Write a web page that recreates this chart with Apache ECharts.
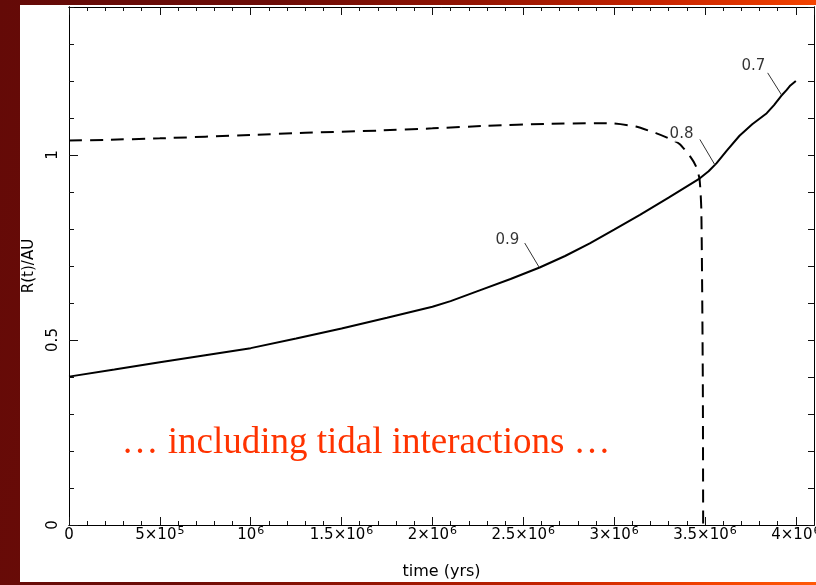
<!DOCTYPE html>
<html>
<head>
<meta charset="utf-8">
<script src="https://cdn.jsdelivr.net/npm/echarts@6/dist/echarts.min.js"></script>
<style>
  html, body { margin:0; padding:0; }
  body { width:816px; height:585px; overflow:hidden; position:relative;
    background: linear-gradient(100deg, #640a07 0%, #6c0c07 30%, #941503 52%, #c82400 72%, #f24200 88%, #ff5a08 100%); }
  #panel { position:absolute; left:20px; top:5px; width:796px; height:577px; background:#ffffff; }
  #chart { position:absolute; left:0; top:0; width:816px; height:585px; }
</style>
</head>
<body>
<div id="panel"></div>
<div id="chart"></div>
<script>
// ---- data ----
const xTickLabels = ['0', '5×10^5', '10^6', '1.5×10^6', '2×10^6', '2.5×10^6', '3×10^6', '3.5×10^6', '4×10^6'];
const yTickLabels = ['0', '0.5', '1'];

// solid curve: R(t) including tides
const solidT = [0, 2.5e5, 5e5, 7.5e5, 1e6, 1.25e6, 1.5e6, 1.75e6, 2e6, 2.1e6, 2.26e6, 2.43e6, 2.59e6, 2.73e6, 2.866e6, 3.0e6, 3.142e6, 3.3e6, 3.472e6, 3.52e6, 3.564e6, 3.62e6, 3.69e6, 3.76e6, 3.84e6, 3.88e6, 3.92e6, 3.95e6, 3.97e6, 4.0e6];
const solidR = [0.401, 0.420, 0.440, 0.459, 0.478, 0.504, 0.531, 0.560, 0.590, 0.605, 0.634, 0.665, 0.696, 0.727, 0.761, 0.798, 0.838, 0.885, 0.937, 0.956, 0.978, 1.012, 1.052, 1.083, 1.113, 1.135, 1.160, 1.176, 1.188, 1.200];

// dashed curve
const dashT = [0, 2e5, 5e5, 1e6, 1.3e6, 1.7e6, 2e6, 2.3e6, 2.63e6, 2.9e6, 3.0e6, 3.12e6, 3.23e6, 3.30e6, 3.36e6, 3.42e6, 3.45e6, 3.47e6, 3.48e6, 3.488e6, 3.49e6];
const dashR = [1.039, 1.041, 1.045, 1.054, 1.060, 1.066, 1.072, 1.079, 1.084, 1.086, 1.085, 1.077, 1.059, 1.045, 1.030, 0.995, 0.970, 0.935, 0.850, 0.400, 0];

// contour-style labels and their leader lines
const markText = ['0.9', '0.8', '0.7'];
const markTextT = [2.413e6, 3.371e6, 3.766e6];
const markTextR = [0.770, 1.056, 1.240];
const leaderT0 = [2.508e6, 3.472e6, 3.845e6];
const leaderR0 = [0.762, 1.042, 1.222];
const leaderT1 = [2.587e6, 3.555e6, 3.922e6];
const leaderR1 = [0.697, 0.973, 1.162];

const noteText = '… including tidal interactions …';

// ---- chart ----
const chart = echarts.init(document.getElementById('chart'), null, {renderer: 'canvas'});
const FONT = 'DejaVu Sans';
const xMin = 0, xMax = 4.1e6, yMin = 0, yMax = 1.4;

function xLabel(v) {
  const i = Math.round(v / 5e5);
  if (Math.abs(v - i * 5e5) > 1 || i < 0 || i >= xTickLabels.length) return '';
  const s = xTickLabels[i];
  const p = s.indexOf('^');
  if (p < 0) return '{b|' + s + '}';
  return '{b|' + s.slice(0, p) + '}{s|' + s.slice(p + 1) + '}';
}
function yLabel(v) {
  const i = Math.round(v / 0.5);
  if (Math.abs(v - i * 0.5) > 1e-6 || i < 0 || i >= yTickLabels.length) return '';
  return yTickLabels[i];
}
const tickLine = {color: '#111', width: 1};
function xAx(pos, interval, len, extra) {
  return Object.assign({
    type: 'value', position: pos, min: xMin, max: xMax, interval: interval,
    axisLine: {show: true, onZero: false, lineStyle: {color: '#000', width: 1}},
    axisTick: {show: true, inside: true, length: len, lineStyle: tickLine},
    axisLabel: {show: false}, splitLine: {show: false}, minorTick: {show: false}
  }, extra || {});
}
function yAx(pos, interval, len, extra) {
  return Object.assign({
    type: 'value', position: pos, min: yMin, max: yMax, interval: interval,
    axisLine: {show: true, onZero: false, lineStyle: {color: '#000', width: 1}},
    axisTick: {show: true, inside: true, length: len, lineStyle: tickLine},
    axisLabel: {show: false}, splitLine: {show: false}, minorTick: {show: false}
  }, extra || {});
}

const option = {
  animation: false,
  backgroundColor: 'transparent',
  grid: {left: 69, right: 2, top: 7, bottom: 60, containLabel: false, outerBoundsMode: 'none'},
  xAxis: [
    xAx('bottom', 5e5, 8, {
      name: 'time (yrs)', nameLocation: 'middle', nameGap: 39,
      nameTextStyle: {fontFamily: FONT, fontSize: 16, color: '#000'},
      axisLabel: {show: true, margin: 1, showMaxLabel: false, formatter: xLabel,
        rich: {
          b: {fontFamily: FONT, fontSize: 15, color: '#000', verticalAlign: 'bottom', lineHeight: 17},
          s: {fontFamily: FONT, fontSize: 11, color: '#000', verticalAlign: 'top', lineHeight: 11, padding: [0, 0, 11, 1]}
        }}
    }),
    xAx('bottom', 1e5, 4),
    xAx('top', 5e5, 8),
    xAx('top', 1e5, 4)
  ],
  yAxis: [
    yAx('left', 0.5, 9, {
      name: 'R(t)/AU', nameLocation: 'middle', nameGap: 32, nameRotate: 90,
      nameTextStyle: {fontFamily: FONT, fontSize: 15, color: '#000'},
      axisLabel: {show: true, rotate: 90, margin: 8, showMaxLabel: false, formatter: yLabel,
        fontFamily: FONT, fontSize: 15, color: '#000'}
    }),
    yAx('left', 0.1, 5),
    yAx('right', 0.5, 6),
    yAx('right', 0.1, 6)
  ],
  series: [
    {
      type: 'line', name: 'dashed', xAxisIndex: 0, yAxisIndex: 0,
      data: dashT.map((t, i) => [t, dashR[i]]),
      showSymbol: false, symbol: 'none', smooth: 0.2, z: 2,
      lineStyle: {color: '#000', width: 2, type: [13, 8]}
    },
    {
      type: 'line', name: 'solid', xAxisIndex: 0, yAxisIndex: 0,
      data: solidT.map((t, i) => [t, solidR[i]]),
      showSymbol: false, symbol: 'none', smooth: false, z: 3,
      lineStyle: {color: '#000', width: 2}
    },
    {
      type: 'lines', coordinateSystem: 'cartesian2d', xAxisIndex: 0, yAxisIndex: 0, z: 4,
      data: markText.map((s, i) => ({coords: [[leaderT0[i], leaderR0[i]], [leaderT1[i], leaderR1[i]]]})),
      lineStyle: {color: '#333', width: 1, opacity: 1}, symbol: 'none'
    },
    {
      type: 'scatter', xAxisIndex: 0, yAxisIndex: 0, z: 5,
      data: markText.map((s, i) => ({value: [markTextT[i], markTextR[i]], name: s})),
      symbolSize: 1, itemStyle: {color: 'transparent'},
      label: {show: true, position: 'inside', formatter: p => p.name,
        fontFamily: FONT, fontSize: 15, color: '#000', backgroundColor: '#fff', padding: [0, 1]},
      emphasis: {disabled: true}, silent: true
    }
  ],
  graphic: [
    {type: 'text', x: 366, y: 443, z: 10,
     style: {text: noteText, fontFamily: 'Liberation Serif', fontSize: 37, fill: '#ff3300',
             align: 'center', verticalAlign: 'middle'}}
  ]
};
chart.setOption(option);
</script>
</body>
</html>
